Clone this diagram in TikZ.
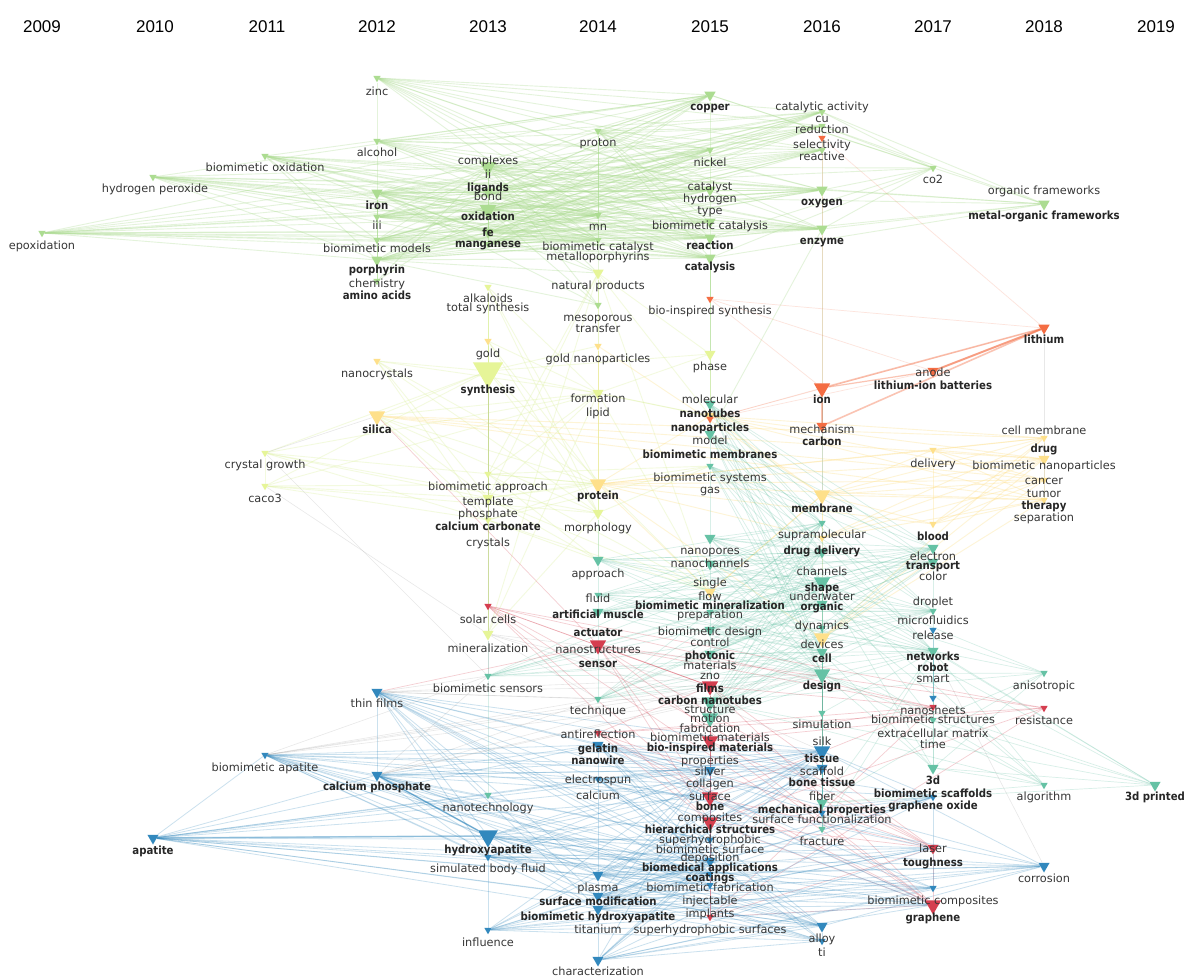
\documentclass[tikz,border=0pt]{standalone}
\usepackage{fontspec}
\setmainfont{DejaVu Sans}[BoldFeatures={FakeStretch=0.9}]
\newfontfamily\yrfont{Liberation Sans}
\usetikzlibrary{shapes.geometric}
\definecolor{cG}{RGB}{172,220,145}
\definecolor{cL}{RGB}{230,245,152}
\definecolor{cY}{RGB}{254,224,139}
\definecolor{cO}{RGB}{244,109,67}
\definecolor{cR}{RGB}{213,62,79}
\definecolor{cT}{RGB}{102,194,165}
\definecolor{cB}{RGB}{50,136,189}
\definecolor{txtc}{RGB}{55,55,55}
\definecolor{txtb}{RGB}{38,38,38}
\pgfdeclarelayer{bg}
\pgfsetlayers{bg,main}
\newcommand\mkT[5]{\node[#4, fill=#5] (#1) at (#2,#3) {};}
\newcommand\mkL[4]{\node[lb] (l#1) at (#2,#3) {#4};}
\newcommand\mkB[4]{\node[lbb] (l#1) at (#2,#3) {#4};}
\tikzset{
  tri/.style={regular polygon, regular polygon sides=3, regular polygon rotate=180, inner sep=0pt, draw=none},
  tS/.style={tri, minimum size=8.5pt},
  tM/.style={tri, minimum size=13pt},
  tL/.style={tri, minimum size=19pt},
  tH/.style={tri, minimum size=23pt},
  tX/.style={tri, minimum size=35pt},
  lb/.style={text=txtc, font=\fontsize{11.3}{12}\selectfont, inner sep=0pt, text height=8.4pt, text depth=2.4pt},
  lbb/.style={text=txtb, font=\fontsize{11.3}{12}\selectfont\bfseries, inner sep=0pt, text height=8.4pt, text depth=2.4pt},
  yr/.style={font=\yrfont\fontsize{17}{18}\selectfont, text=black, inner sep=0pt},
  eG/.style={draw=cG, line width=0.9pt, draw opacity=0.32},
  eL/.style={draw=cL!80!cG, line width=0.9pt, draw opacity=0.3},
  eY/.style={draw=cY, line width=0.9pt, draw opacity=0.35},
  eO/.style={draw=cO, line width=1.2pt, draw opacity=0.4},
  eOf/.style={draw=cO, line width=0.7pt, draw opacity=0.18},
  eR/.style={draw=cR, line width=0.7pt, draw opacity=0.25},
  eT/.style={draw=cT, line width=0.7pt, draw opacity=0.25},
  eB/.style={draw=cB, line width=0.8pt, draw opacity=0.25},
  eK/.style={draw=gray, line width=0.6pt, draw opacity=0.18}
}
\begin{document}
\begin{tikzpicture}[x=1pt,y=-1pt]
\useasboundingbox (0,0) rectangle (1186,976);
\begin{pgfonlayer}{bg}
\fill[white] (0,0) rectangle (1186,976);
\end{pgfonlayer}
% years
\foreach \yy/\xx in {2009/42,2010/155,2011/267,2012/377,2013/488,2014/598,2015/710,2016/822,2017/933,2018/1044,2019/1156}
  \node[yr] (y\yy) at (\xx,27) {\yy};
% ---------- triangles: green cluster
\mkT{zinc}{377}{78}{tS}{cG}
\mkT{copper}{710}{95}{tM}{cG}
\mkT{catact}{822}{112}{tS}{cG}
\mkT{cu}{822}{126}{tS}{cG}
\mkT{reduc}{822}{138}{tS}{cO}
\mkT{select}{822}{150}{tS}{cG}
\mkT{proton}{598}{131}{tS}{cG}
\mkT{alcohol}{377}{141}{tS}{cG}
\mkT{bmox}{265}{156}{tS}{cG}
\mkT{h2o2}{153}{177}{tS}{cG}
\mkT{cplx}{488}{167}{tL}{cG}
\mkT{ligands}{488}{192}{tM}{cG}
\mkT{oxid}{488}{210}{tL}{cG}
\mkT{fe}{488}{232}{tM}{cG}
\mkT{mang}{488}{244}{tS}{cG}
\mkT{nickel}{710}{150}{tS}{cG}
\mkT{catlst}{710}{190}{tM}{cG}
\mkT{bmcat}{710}{222}{tM}{cG}
\mkT{react}{710}{238}{tM}{cG}
\mkT{catal}{710}{258}{tM}{cG}
\mkT{oxygen}{822}{190}{tM}{cG}
\mkT{enzyme}{822}{229}{tM}{cG}
\mkT{co2}{933}{168}{tS}{cG}
\mkT{mof}{1044}{204}{tM}{cG}
\mkT{iron}{377}{193}{tM}{cG}
\mkT{iii}{377}{217}{tS}{cG}
\mkT{bmmod}{377}{240}{tS}{cG}
\mkT{porph}{377}{260}{tM}{cG}
\mkT{chem}{377}{281}{tS}{cG}
\mkT{epox}{42}{233}{tS}{cG}
\mkT{mn}{598}{215}{tS}{cG}
\mkT{bmcatl}{598}{240}{tS}{cG}
\mkT{meso}{598}{305}{tS}{cG}
% yellow-green
\mkT{natprod}{598}{273}{tM}{cL}
\mkT{alkal}{488}{287}{tS}{cL}
\mkT{synth}{488}{371}{tX}{cL}
\mkT{formation}{598}{393}{tM}{cL}
\mkT{phase}{710}{354}{tM}{cL}
\mkT{crystgr}{265}{453}{tS}{cL}
\mkT{caco3}{265}{486}{tS}{cL}
\mkT{bmappr}{488}{474}{tS}{cL}
\mkT{templ}{488}{498}{tM}{cL}
\mkT{cacarb}{488}{520}{tS}{cL}
\mkT{morph}{598}{513}{tM}{cL}
\mkT{miner}{488}{634}{tM}{cL}
% yellow
\mkT{gold}{488}{341}{tS}{cY}
\mkT{nanocr}{377}{361}{tS}{cY}
\mkT{silica}{377}{416}{tL}{cY}
\mkT{goldnp}{598}{346}{tS}{cY}
\mkT{protein}{598}{484}{tL}{cY}
\mkT{membrane}{822}{495}{tL}{cY}
\mkT{nanopart}{710}{416}{tM}{cY}
\mkT{delivery}{933}{450}{tS}{cY}
\mkT{cellmem}{1044}{438}{tS}{cY}
\mkT{drug}{1044}{459}{tM}{cY}
\mkT{cancer}{1044}{480}{tS}{cY}
\mkT{therapy}{1044}{500}{tS}{cY}
\mkT{blood}{933}{524}{tS}{cY}
\mkT{supra}{822}{538}{tS}{cY}
\mkT{devices}{822}{638}{tL}{cY}
\mkT{flow}{710}{592}{tM}{cY}
% orange
\mkT{bisyn}{710}{299}{tS}{cO}
\mkT{lithium}{1044}{328}{tM}{cO}
\mkT{anode}{933}{371}{tM}{cO}
\mkT{ion}{822}{388}{tL}{cO}
\mkT{mech}{822}{426}{tM}{cO}
\mkT{ntubesO}{710}{419}{tS}{cO}
% teal
\mkT{molec}{710}{404}{tM}{cT}
\mkT{model}{710}{434}{tM}{cT}
\mkT{bmsys}{710}{466}{tS}{cT}
\mkT{npores}{710}{538}{tM}{cT}
\mkT{nchan}{710}{564}{tM}{cT}
\mkT{prep}{710}{612}{tS}{cT}
\mkT{bmdes}{710}{630}{tM}{cT}
\mkT{photonic}{710}{654}{tM}{cT}
\mkT{cnt}{710}{702}{tL}{cT}
\mkT{struct}{710}{718}{tL}{cT}
\mkT{approach}{598}{560}{tM}{cT}
\mkT{fluid}{598}{595}{tS}{cT}
\mkT{artmus}{598}{612}{tM}{cT}
\mkT{technique}{598}{699}{tS}{cT}
\mkT{bmsens}{488}{676}{tS}{cT}
\mkT{nanotech}{488}{795}{tS}{cT}
\mkT{memT}{822}{523}{tS}{cT}
\mkT{ddel}{822}{552}{tM}{cT}
\mkT{shape}{822}{582}{tL}{cT}
\mkT{organic}{822}{604}{tM}{cT}
\mkT{dynam}{822}{628}{tS}{cT}
\mkT{cell}{822}{652}{tM}{cT}
\mkT{design}{822}{674}{tL}{cT}
\mkT{simul}{822}{713}{tS}{cT}
\mkT{mechp}{822}{803}{tM}{cT}
\mkT{fract}{822}{829}{tS}{cT}
\mkT{electron}{933}{548}{tM}{cT}
\mkT{transp}{933}{562}{tM}{cT}
\mkT{microfl}{933}{611}{tS}{cT}
\mkT{networks}{933}{651}{tM}{cT}
\mkT{bmstruct}{933}{720}{tS}{cT}
\mkT{tdd}{933}{768}{tM}{cT}
\mkT{aniso}{1044}{673}{tS}{cT}
\mkT{algo}{1044}{785}{tS}{cT}
\mkT{printed}{1155}{785}{tM}{cT}
% red
\mkT{solar}{488}{606}{tS}{cR}
\mkT{actuator}{598}{645}{tL}{cR}
\mkT{antiref}{598}{733}{tS}{cR}
\mkT{films}{710}{686}{tL}{cR}
\mkT{bim}{710}{741}{tL}{cR}
\mkT{surface}{710}{797}{tL}{cR}
\mkT{hier}{710}{822}{tL}{cR}
\mkT{implants}{710}{917}{tS}{cR}
\mkT{nsheets}{933}{707}{tS}{cR}
\mkT{resist}{1044}{708}{tS}{cR}
\mkT{laser}{933}{848}{tM}{cR}
\mkT{graphene}{933}{905}{tL}{cR}
% blue
\mkT{thinf}{377}{692}{tM}{cB}
\mkT{bmapat}{265}{755}{tS}{cB}
\mkT{caphos}{377}{775}{tM}{cB}
\mkT{apatite}{153}{838}{tM}{cB}
\mkT{hap}{488}{836}{tH}{cB}
\mkT{sbf}{488}{857}{tS}{cB}
\mkT{influ}{488}{930}{tS}{cB}
\mkT{gelatin}{598}{745}{tM}{cB}
\mkT{espun}{598}{779}{tS}{cB}
\mkT{plasma}{598}{875}{tM}{cB}
\mkT{surfmod}{598}{896}{tM}{cB}
\mkT{bmhap}{598}{909}{tM}{cB}
\mkT{charac}{598}{960}{tM}{cB}
\mkT{silver}{710}{770}{tM}{cB}
\mkT{shydro}{710}{840}{tS}{cB}
\mkT{depos}{710}{861}{tM}{cB}
\mkT{coatings}{710}{874}{tS}{cB}
\mkT{bmfab}{710}{885}{tS}{cB}
\mkT{tissue}{822}{751}{tL}{cB}
\mkT{scaff}{822}{768}{tM}{cB}
\mkT{surffn}{822}{813}{tS}{cB}
\mkT{alloy}{822}{926}{tM}{cB}
\mkT{ti}{822}{941}{tS}{cB}
\mkT{relB}{933}{630}{tS}{cB}
\mkT{smartB}{933}{698}{tS}{cB}
\mkT{go}{933}{797}{tS}{cB}
\mkT{bcomp}{933}{888}{tS}{cB}
\mkT{corros}{1044}{866}{tM}{cB}
% ---------- labels
\mkL{zinc}{377}{93}{zinc}
\mkB{copper}{710}{108}{copper}
\mkL{catact}{822}{108}{catalytic activity}
\mkL{cu}{822}{120}{cu}
\mkL{reduc}{822}{131}{reduction}
\mkL{select}{822}{146}{selectivity}
\mkL{reactive}{822}{158}{reactive}
\mkL{proton}{598}{144}{proton}
\mkL{alcohol}{377}{154}{alcohol}
\mkL{bmox}{265}{169}{biomimetic oxidation}
\mkL{h2o2}{155}{190}{hydrogen peroxide}
\mkL{cplx}{488}{162}{complexes}
\mkL{ii}{488}{176}{ii}
\mkB{ligands}{488}{189}{ligands}
\mkL{bond}{488}{198}{bond}
\mkB{oxid}{488}{218}{oxidation}
\mkB{fe}{488}{234}{fe}
\mkB{mang}{488}{245}{manganese}
\mkL{nickel}{710}{164}{nickel}
\mkL{catlst}{710}{188}{catalyst}
\mkL{hydrogen}{710}{200}{hydrogen}
\mkL{type}{710}{212}{type}
\mkL{bmcat}{710}{227}{biomimetic catalysis}
\mkB{react}{710}{247}{reaction}
\mkB{catal}{710}{268}{catalysis}
\mkB{oxygen}{822}{203}{oxygen}
\mkB{enzyme}{822}{242}{enzyme}
\mkL{co2}{933}{181}{co2}
\mkL{orgfw}{1044}{192}{organic frameworks}
\mkB{mof}{1044}{217}{metal-organic frameworks}
\mkB{iron}{377}{207}{iron}
\mkL{iii}{377}{227}{iii}
\mkL{bmmod}{377}{250}{biomimetic models}
\mkB{porph}{377}{271}{porphyrin}
\mkL{chem}{377}{285}{chemistry}
\mkB{amino}{377}{297}{amino acids}
\mkL{epox}{42}{247}{epoxidation}
\mkL{mn}{598}{228}{mn}
\mkL{bmcatl}{598}{248}{biomimetic catalyst}
\mkL{metp}{598}{258}{metalloporphyrins}
\mkL{meso}{598}{318}{mesoporous}
\mkL{transfer}{598}{330}{transfer}
\mkL{natprod}{598}{287}{natural products}
\mkL{alkal}{488}{299}{alkaloids}
\mkL{totsyn}{488}{309}{total synthesis}
\mkB{synth}{488}{390}{synthesis}
\mkL{formation}{598}{399}{formation}
\mkL{lipid}{598}{413}{lipid}
\mkL{phase}{710}{367}{phase}
\mkL{crystgr}{265}{465}{crystal growth}
\mkL{caco3}{265}{499}{caco3}
\mkL{bmappr}{488}{487}{biomimetic approach}
\mkL{templ}{488}{502}{template}
\mkL{phosph}{488}{514}{phosphate}
\mkB{cacarb}{488}{527}{calcium carbonate}
\mkL{crystals}{488}{543}{crystals}
\mkL{morph}{598}{528}{morphology}
\mkL{miner}{488}{649}{mineralization}
\mkL{gold}{488}{354}{gold}
\mkL{nanocr}{377}{374}{nanocrystals}
\mkB{silica}{377}{430}{silica}
\mkL{goldnp}{598}{359}{gold nanoparticles}
\mkB{protein}{598}{496}{protein}
\mkB{membrane}{822}{509}{membrane}
\mkL{delivery}{933}{464}{delivery}
\mkL{cellmem}{1044}{431}{cell membrane}
\mkB{drug}{1044}{449}{drug}
\mkL{bmnp}{1044}{466}{biomimetic nanoparticles}
\mkL{cancer}{1044}{481}{cancer}
\mkL{tumor}{1044}{494}{tumor}
\mkB{therapy}{1044}{506}{therapy}
\mkL{separ}{1044}{518}{separation}
\mkB{blood}{933}{537}{blood}
\mkL{supra}{822}{535}{supramolecular}
\mkL{devices}{822}{645}{devices}
\mkL{flow}{710}{597}{flow}
\mkL{bisyn}{710}{312}{bio-inspired synthesis}
\mkB{lithium}{1044}{341}{lithium}
\mkL{anode}{933}{373}{anode}
\mkB{libat}{933}{386}{lithium-ion batteries}
\mkB{ion}{822}{400}{ion}
\mkL{mech}{822}{430}{mechanism}
\mkB{carbon}{822}{442}{carbon}
\mkL{molec}{710}{400}{molecular}
\mkB{ntubes}{710}{414}{nanotubes}
\mkB{npart}{710}{428}{nanoparticles}
\mkL{model}{710}{441}{model}
\mkB{bmmem}{710}{455}{biomimetic membranes}
\mkL{bmsys}{710}{478}{biomimetic systems}
\mkL{gas}{710}{490}{gas}
\mkL{npores}{710}{551}{nanopores}
\mkL{nchan}{710}{564}{nanochannels}
\mkL{single}{710}{583}{single}
\mkB{bmmin}{710}{606}{biomimetic mineralization}
\mkL{prep}{710}{615}{preparation}
\mkL{bmdes}{710}{632}{biomimetic design}
\mkL{control}{710}{643}{control}
\mkB{photonic}{710}{656}{photonic}
\mkL{materials}{710}{666}{materials}
\mkL{zno}{710}{676}{zno}
\mkB{films}{710}{689}{films}
\mkB{cnt}{710}{701}{carbon nanotubes}
\mkL{struct}{710}{710}{structure}
\mkL{motion}{710}{719}{motion}
\mkL{fabric}{710}{729}{fabrication}
\mkL{bmmat}{710}{738}{biomimetic materials}
\mkB{bim}{710}{748}{bio-inspired materials}
\mkL{props}{710}{761}{properties}
\mkL{silver}{710}{772}{silver}
\mkL{collagen}{710}{784}{collagen}
\mkL{surface}{710}{797}{surface}
\mkB{bone}{710}{807}{bone}
\mkL{compos}{710}{818}{composites}
\mkB{hier}{710}{830}{hierarchical structures}
\mkL{shydro}{710}{840}{superhydrophobic}
\mkL{bmsurf}{710}{850}{biomimetic surface}
\mkL{depos}{710}{858}{deposition}
\mkB{bmapps}{710}{868}{biomedical applications}
\mkB{coatings}{710}{878}{coatings}
\mkL{bmfab}{710}{888}{biomimetic fabrication}
\mkL{inject}{710}{901}{injectable}
\mkL{implants}{710}{914}{implants}
\mkL{shsurf}{710}{930}{superhydrophobic surfaces}
\mkL{approach}{598}{574}{approach}
\mkL{fluid}{598}{599}{fluid}
\mkB{artmus}{598}{615}{artificial muscle}
\mkB{actuator}{598}{633}{actuator}
\mkL{nstruct}{598}{650}{nanostructures}
\mkB{sensor}{598}{664}{sensor}
\mkL{technique}{598}{711}{technique}
\mkL{antiref}{598}{735}{antireflection}
\mkB{gelatin}{598}{749}{gelatin}
\mkB{nwire}{598}{761}{nanowire}
\mkL{espun}{598}{780}{electrospun}
\mkL{calcium}{598}{796}{calcium}
\mkL{plasma}{598}{888}{plasma}
\mkB{surfmod}{598}{902}{surface modification}
\mkB{bmhap}{598}{917}{biomimetic hydroxyapatite}
\mkL{titan}{598}{930}{titanium}
\mkL{charac}{598}{972}{characterization}
\mkL{solar}{488}{620}{solar cells}
\mkL{bmsens}{488}{689}{biomimetic sensors}
\mkL{nanotech}{488}{808}{nanotechnology}
\mkB{hap}{488}{850}{hydroxyapatite}
\mkL{sbf}{488}{869}{simulated body fluid}
\mkL{influ}{488}{943}{influence}
\mkL{thinf}{377}{704}{thin films}
\mkL{bmapat}{265}{768}{biomimetic apatite}
\mkB{caphos}{377}{787}{calcium phosphate}
\mkB{apatite}{153}{851}{apatite}
\mkB{ddel}{822}{551}{drug delivery}
\mkL{channels}{822}{572}{channels}
\mkB{shape}{822}{588}{shape}
\mkL{underw}{822}{597}{underwater}
\mkB{organic}{822}{607}{organic}
\mkL{dynam}{822}{626}{dynamics}
\mkB{cell}{822}{659}{cell}
\mkB{design}{822}{686}{design}
\mkL{simul}{822}{725}{simulation}
\mkL{silk}{822}{742}{silk}
\mkB{tissue}{822}{759}{tissue}
\mkL{scaff}{822}{772}{scaffold}
\mkB{bonetis}{822}{783}{bone tissue}
\mkL{fiber}{822}{797}{fiber}
\mkB{mechp}{822}{810}{mechanical properties}
\mkL{surffn}{822}{820}{surface functionalization}
\mkL{fract}{822}{842}{fracture}
\mkL{alloy}{822}{939}{alloy}
\mkL{ti}{822}{953}{ti}
\mkL{electron}{933}{557}{electron}
\mkB{transp}{933}{566}{transport}
\mkL{color}{933}{577}{color}
\mkL{droplet}{933}{602}{droplet}
\mkL{microfl}{933}{621}{microfluidics}
\mkL{release}{933}{636}{release}
\mkB{networks}{933}{657}{networks}
\mkB{robot}{933}{668}{robot}
\mkL{smart}{933}{679}{smart}
\mkL{nsheets}{933}{711}{nanosheets}
\mkL{bmstruct}{933}{720}{biomimetic structures}
\mkL{ecm}{933}{734}{extracellular matrix}
\mkL{time}{933}{745}{time}
\mkB{tdd}{933}{781}{3d}
\mkB{bmscaf}{933}{794}{biomimetic scaffolds}
\mkB{go}{933}{806}{graphene oxide}
\mkL{laser}{933}{849}{laser}
\mkB{tough}{933}{863}{toughness}
\mkL{bmcomp}{933}{901}{biomimetic composites}
\mkB{graphene}{933}{918}{graphene}
\mkL{aniso}{1044}{686}{anisotropic}
\mkL{resist}{1044}{721}{resistance}
\mkL{algo}{1044}{797}{algorithm}
\mkL{corros}{1044}{879}{corrosion}
\mkB{printed}{1155}{797}{3d printed}
% ---------- connectors
\begin{pgfonlayer}{bg}
% green
\foreach \a in {epox,h2o2,bmox}
  \foreach \b in {iron,oxid,cplx,ligands,fe,mang,porph,bmmod,catal,react,oxygen,copper,mn,enzyme,catlst,bmcatl}
    \draw[eG] (\a) -- (\b);
\foreach \a in {zinc,alcohol,proton,iron,cplx,oxid,ligands,fe,iii,porph,mang,bmmod}
  \foreach \b in {copper,nickel,catact,cu,select,oxygen,enzyme,catal,react,bmcat,catlst,mn,bmcatl}
    \draw[eG] (\a) -- (\b);
\foreach \a in {co2,mof}
  \foreach \b in {oxygen,enzyme,cu,catal,cplx,copper,iron,catact,react}
    \draw[eG] (\a) -- (\b);
\foreach \a in {iron,cplx,oxid,porph}
  \foreach \b in {iii,ligands,fe,mang,chem,bmmod,natprod,meso}
    \draw[eG] (\a) -- (\b);
\foreach \a/\b in {copper/nickel,nickel/catlst,catlst/react,react/catal,catal/bisyn,catal/phase,oxygen/enzyme,cu/select,select/oxygen,zinc/alcohol,alcohol/iron,proton/mn,mn/bmcatl,bmcatl/natprod,natprod/meso,iron/iii,iii/bmmod,bmmod/porph,porph/chem,enzyme/model,catal/molec,enzyme/membrane,catal/nanopart}
  \draw[eG] (\a) -- (\b);
\draw[eOf] (reduc) -- (ion);
% yellow-green
\foreach \a in {crystgr,caco3,nanocr,silica,alkal,gold}
  \foreach \b in {synth,templ,cacarb,morph,formation,protein}
    \draw[eL] (\a) -- (\b);
\foreach \a in {synth,natprod,formation}
  \foreach \b in {phase,goldnp,morph,templ,miner,bmappr,flow,nanopart}
    \draw[eL] (\a) -- (\b);
\foreach \a in {templ,cacarb,morph,bmappr}
  \foreach \b in {miner,protein,flow,approach,bmsys}
    \draw[eL] (\a) -- (\b);
\foreach \a/\b in {alkal/gold,gold/synth,crystgr/caco3,synth/bmappr,bmappr/templ,templ/cacarb,cacarb/solar,solar/miner,goldnp/formation,formation/protein,protein/morph,phase/molec}
  \draw[eL] (\a) -- (\b);
% yellow
\foreach \a in {membrane,protein,delivery,blood,devices,supra,nanopart,silica}
  \foreach \b in {drug,therapy,cancer,cellmem}
    \draw[eY] (\a) -- (\b);
\foreach \a in {membrane,protein}
  \foreach \b in {delivery,blood,devices,supra,nanopart,flow,goldnp}
    \draw[eY] (\a) -- (\b);
\foreach \a/\b in {drug/cellmem,drug/cancer,cancer/therapy,delivery/blood,membrane/flow}
  \draw[eY] (\a) -- (\b);
% orange
\foreach \a in {ion,anode,mech}
  \draw[eO, line width=1.6pt] (\a) -- (lithium);
\draw[eO, line width=2pt, draw opacity=0.45] (anode) -- (lithium);
\foreach \a in {bisyn,ntubesO,reduc}
  \draw[eOf] (\a) -- (lithium);
\foreach \a in {anode,mech}
  \draw[eO] (\a) -- (ion);
\foreach \a/\b in {ntubesO/ion,bisyn/ion,bisyn/anode,ion/mech,ntubesO/anode}
  \draw[eOf] (\a) -- (\b);
% teal
\foreach \a in {molec,model,bmsys,npores,nchan,prep,bmdes,photonic,cnt,struct,approach,fluid,artmus,bmsens,technique}
  \foreach \b in {shape,organic,design,cell,networks,transp,electron,microfl,ddel,memT}
    \draw[eT] (\a) -- (\b);
\foreach \a in {shape,organic,design,networks,tdd,bmstruct,cnt,mechp}
  \foreach \b in {printed,aniso,algo}
    \draw[eT] (\a) -- (\b);
\foreach \a in {design,cell,shape,networks}
  \foreach \b in {tdd,bmstruct,simul,mechp,fract}
    \draw[eT] (\a) -- (\b);
\foreach \a/\b in {molec/model,model/bmsys,bmsys/npores,npores/nchan,nchan/prep,prep/bmdes,bmdes/photonic,photonic/cnt,cnt/struct,approach/fluid,fluid/artmus,artmus/technique,memT/ddel,ddel/shape,shape/organic,organic/dynam,dynam/cell,cell/design,design/simul,simul/mechp,mechp/fract,electron/transp,transp/microfl,microfl/networks,networks/bmstruct,bmstruct/tdd,bmsens/nanotech,miner/bmsens,morph/approach}
  \draw[eT] (\a) -- (\b);
% red
\foreach \a in {actuator,solar,antiref,bim,implants}
  \foreach \b in {films,surface,hier,graphene,laser,nsheets,resist}
    \draw[eR] (\a) -- (\b);
\foreach \a/\b in {films/graphene,films/laser,surface/graphene,hier/laser,hier/graphene,surface/laser,films/nsheets,surface/nsheets,hier/resist,films/surface,laser/graphene,silica/actuator,thinf/actuator,solar/films}
  \draw[eR] (\a) -- (\b);
% blue
\foreach \a in {apatite,bmapat,caphos,thinf}
  \foreach \b in {hap,coatings,depos,surface,tissue,surfmod,bmhap,sbf,plasma,scaff,silver,gelatin,espun,shydro,bmfab,alloy}
    \draw[eB] (\a) -- (\b);
\foreach \a in {hap,sbf,influ,charac,plasma,surfmod,bmhap,gelatin,espun}
  \foreach \b in {coatings,depos,tissue,scaff,corros,alloy,ti,graphene,bcomp,silver,go,laser}
    \draw[eB] (\a) -- (\b);
\foreach \a/\b in {apatite/bmapat,apatite/caphos,bmapat/caphos,thinf/caphos,caphos/hap,hap/sbf,hap/influ,espun/plasma,plasma/surfmod,surfmod/bmhap,bmhap/charac,tissue/scaff,silver/depos,corros/alloy,gelatin/espun,depos/bmfab,alloy/ti,relB/smartB,go/bcomp,tissue/go,scaff/surffn,silver/tissue,coatings/corros,tissue/corros}
  \draw[eB] (\a) -- (\b);
\draw[eB, line width=1.6pt, draw opacity=0.4] (apatite) -- (hap);
\draw[eB, line width=1.6pt, draw opacity=0.4] (caphos) -- (hap);
% cross-cluster faint
\foreach \a in {thinf,caphos,bmapat,miner}
  \foreach \b in {design,cnt,films,bmsens,technique}
    \draw[eK] (\a) -- (\b);
\foreach \a/\b in {crystgr/bmsens,caco3/miner,silica/crystgr,synth/miner,ion/membrane,lithium/therapy,networks/corros,design/tissue,cnt/tissue,struct/silver}
  \draw[eK] (\a) -- (\b);
\end{pgfonlayer}
\end{tikzpicture}
\end{document}
